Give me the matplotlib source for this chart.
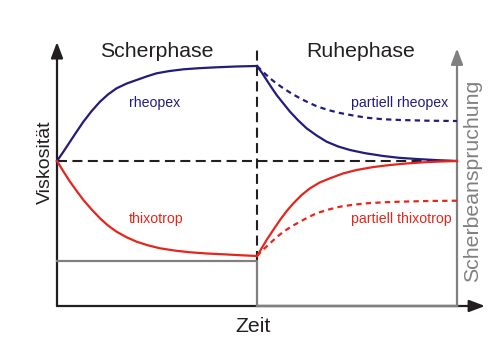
import matplotlib
matplotlib.use("Agg")
import matplotlib.pyplot as plt

plt.rcParams['font.family'] = ['Liberation Sans', 'DejaVu Sans']

# ---- data (time 0..10, viscosity units; baseline = 5) ----
t_shear = [0.0, 0.16, 0.325, 0.49, 0.66, 0.865, 1.075, 1.28, 1.49, 1.74, 1.99,
           2.24, 2.49, 2.8, 3.16, 3.55, 3.99, 4.5, 5.0]
rheopex_shear = [5.0, 5.32, 5.666, 6.01, 6.355, 6.72, 7.045, 7.30, 7.507, 7.67, 7.793,
                 7.915, 8.024, 8.10, 8.162, 8.20, 8.231, 8.26, 8.276]

t_thixo_shear = [0.0, 0.16, 0.325, 0.49, 0.66, 0.865, 1.075, 1.28, 1.49, 1.74, 1.99,
                 2.28, 2.575, 2.95, 3.325, 3.75, 4.16, 4.6, 5.0]
thixo_shear = [5.0, 4.64, 4.286, 3.97, 3.655, 3.33, 3.024, 2.77, 2.562, 2.37, 2.217,
               2.09, 1.990, 1.91, 1.852, 1.81, 1.783, 1.75, 1.724]

t_rheo_rest = [5.0, 5.12, 5.24, 5.365, 5.49, 5.65, 5.825, 6.03, 6.24, 6.49, 6.74,
               7.03, 7.325, 7.7, 8.16, 8.55, 8.99, 9.5, 10.0]
rheopex_rest = [8.276, 8.05, 7.793, 7.53, 7.276, 7.0, 6.700, 6.40, 6.128, 5.88, 5.666,
                5.50, 5.379, 5.27, 5.172, 5.11, 5.069, 5.03, 5.0]

t_thixo_rest = [5.0, 5.12, 5.24, 5.41, 5.575, 5.74, 5.91, 6.11, 6.325, 6.57, 6.825,
                7.15, 7.49, 7.9, 8.325, 8.74, 9.16, 9.58, 10.0]
thixo_rest = [1.724, 2.0, 2.276, 2.63, 2.966, 3.27, 3.541, 3.82, 4.059, 4.26, 4.403,
              4.57, 4.690, 4.79, 4.862, 4.915, 4.955, 4.982, 5.0]

t_part_rest = [5.0, 5.16, 5.325, 5.49, 5.66, 5.86, 6.075, 6.28, 6.49, 6.77, 7.075,
               7.4, 7.74, 8.15, 8.575, 9.25, 10.0]
part_rheopex_rest = [8.276, 8.06, 7.852, 7.67, 7.507, 7.33, 7.162, 7.02, 6.89, 6.76, 6.655,
                     6.57, 6.493, 6.44, 6.414, 6.39, 6.379]
part_thixo_rest = [1.724, 1.95, 2.162, 2.37, 2.562, 2.74, 2.907, 3.06, 3.197, 3.32, 3.424,
                   3.49, 3.541, 3.575, 3.597, 3.62, 3.631]

t_stress = [0.0, 5.0, 5.0, 10.0]
stress = [1.552, 1.552, 0.0, 0.0]

baseline = 5.0
phase_change = 5.0
t_end = 10.0

# ---- styles ----
BLUE = '#221c7c'
RED = '#e4261c'
GRAY = '#808080'
BLACK = '#231f20'

fig = plt.figure(figsize=(5.0, 3.53), dpi=100)
ax = fig.add_axes([0, 0, 1, 1])
ax.set_xlim(-57 / 40, 443 / 40)
ax.set_ylim(-47 / 29, 306 / 29)
ax.axis('off')

lw = 1.6
dash_black = (0, (4.8, 2.6))
dot = (0, (2.4, 1.9))

# dashed reference lines
ax.plot([0, t_end], [baseline, baseline], color=BLACK, lw=1.5, ls=dash_black, zorder=2)
ax.plot([phase_change, phase_change], [1.552, 8.93], color=BLACK, lw=1.5, ls=dash_black, zorder=2)

# shear stress (gray)
ax.plot(t_stress, stress, color=GRAY, lw=1.6, zorder=4, solid_joinstyle='miter')

# axes arrows
arrow_kw = dict(arrowstyle='-|>,head_length=0.95,head_width=0.36', mutation_scale=10,
                shrinkA=0, shrinkB=0, lw=1.6)
ax.annotate('', xy=(0, 9.10), xytext=(0, 0),
            arrowprops=dict(color=BLACK, **arrow_kw), zorder=3)
ax.annotate('', xy=(10.7, 0), xytext=(0, 0),
            arrowprops=dict(color=BLACK, **arrow_kw), zorder=3)
ax.plot([phase_change, t_end], [0, 0], color=GRAY, lw=1.6, zorder=4)
ax.annotate('', xy=(t_end, 8.88), xytext=(t_end, 0),
            arrowprops=dict(color=GRAY, **arrow_kw), zorder=3)

# curves
common = dict(lw=lw, zorder=5, solid_joinstyle='round', dash_joinstyle='round')
ax.plot(t_shear, rheopex_shear, color=BLUE, **common)
ax.plot(t_thixo_shear, thixo_shear, color=RED, **common)
ax.plot(t_rheo_rest, rheopex_rest, color=BLUE, **common)
ax.plot(t_thixo_rest, thixo_rest, color=RED, **common)
ax.plot(t_part_rest, part_rheopex_rest, color=BLUE, ls=dot, **common)
ax.plot(t_part_rest, part_thixo_rest, color=RED, ls=dot, **common)

# texts
ax.text(2.5, 8.576, 'Scherphase', fontsize=15.3, color=BLACK, ha='center', va='baseline')
ax.text(7.6, 8.576, 'Ruhephase', fontsize=15.3, color=BLACK, ha='center', va='baseline')
ax.text(2.43, 6.872, 'rheopex', fontsize=10.2, color=BLUE, ha='center', va='baseline')
ax.text(2.48, 2.851, 'thixotrop', fontsize=10.2, color=RED, ha='center', va='baseline')
ax.text(9.77, 6.85, 'partiell rheopex', fontsize=10.2, color=BLUE, ha='right', va='baseline')
ax.text(9.87, 2.851, 'partiell thixotrop', fontsize=10.2, color=RED, ha='right', va='baseline')
ax.text(4.89, -0.907, 'Zeit', fontsize=15.3, color=BLACK, ha='center', va='baseline')
ax.text(-0.175, 4.948, 'Viskosität', fontsize=14, color=BLACK, ha='center', va='baseline',
        rotation=90, rotation_mode='anchor')
ax.text(10.525, 4.31, 'Scherbeanspruchung', fontsize=15.3, color=GRAY, ha='center',
        va='baseline', rotation=90, rotation_mode='anchor')

fig.savefig('out.png', dpi=100)
